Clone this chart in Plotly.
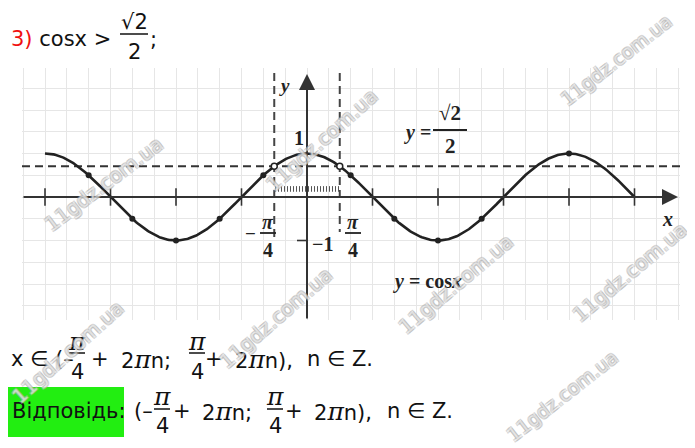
import numpy as np
import plotly.graph_objects as go

PI = np.pi

# ---------------- data ----------------
curve_x_start = -2 * PI
curve_x_end = 5 * PI / 2
level_y = np.sqrt(2) / 2                     # y = sqrt(2)/2
bound_x = [-PI / 4, PI / 4]                  # solution interval ends
dot_x = [-5*PI/3, -4*PI/3, -PI, -2*PI/3, -PI/3, PI/3, 2*PI/3, PI, 4*PI/3, 2*PI]
dot_y = [0.5, -0.5, -1.0, -0.5, 0.5, 0.5, -0.5, -1.0, -0.5, 1.0]
xtick_x = [-2*PI, -3*PI/2, -PI, -PI/2, PI/2, PI, 3*PI/2, 2*PI, 5*PI/2]
ytick_y = [-1]
watermark = "11gdz.com.ua"

# ---------------- layout geometry (screen pixels) ----------------
OFF = 8                          # page body margin
SW, SH = 695, 448
W, H = SW - OFF, SH - OFF
PL, PR, PT, PB = 22, 680, 68, 320     # plot area edges on screen
ML, MT = PL - OFF, PT - OFF
MR, MB = SW - PR, SH - PB
PW, PH = PR - PL, PB - PT
X0PX, Y0PX = 307, 197            # screen position of origin
XK = PI / 131.0                  # data units per pixel (x)
YK = 1 / 43.5                    # data units per pixel (y)
x_range = [(PL - X0PX) * XK, (PR - X0PX) * XK]
y_range = [-(PB - Y0PX) * YK, (Y0PX - PT) * YK]


def px(xp):
    return (xp - PL) / PW


def py(yp):
    return (PB - yp) / PH


INK = "#222222"
fig = go.Figure()

# horizontal dashed line y = sqrt(2)/2
fig.add_trace(go.Scatter(x=x_range, y=[level_y, level_y], mode="lines",
                         line=dict(color="#333", width=2, dash="8px,5px"),
                         hoverinfo="skip"))
# vertical dashed lines x = +-pi/4
fig.add_trace(go.Scatter(x=[bound_x[0], bound_x[0], None, bound_x[1], bound_x[1]],
                         y=[(Y0PX - 73) * YK, -(237 - Y0PX) * YK, None,
                            (Y0PX - 73) * YK, -(232 - Y0PX) * YK],
                         mode="lines", line=dict(color="#444", width=2, dash="8px,5px"),
                         hoverinfo="skip"))
# hatching on the solution interval
hx = np.linspace(bound_x[0] + 0.03, bound_x[1] - 0.03, 22)
hxs, hys = [], []
for v in hx:
    hxs += [v, v, None]
    hys += [0.12, 0.25, None]
fig.add_trace(go.Scatter(x=hxs, y=hys, mode="lines",
                         line=dict(color="#555", width=1), hoverinfo="skip"))
# x ticks
txs, tys = [], []
for t in xtick_x:
    txs += [t, t, None]
    tys += [-0.2, 0.2, None]
fig.add_trace(go.Scatter(x=txs, y=tys, mode="lines",
                         line=dict(color="#333", width=1.6), hoverinfo="skip"))
# y ticks
yxs, yys = [], []
for t in ytick_y:
    yxs += [-10 * XK, 0, None]
    yys += [t, t, None]
fig.add_trace(go.Scatter(x=yxs, y=yys, mode="lines",
                         line=dict(color="#333", width=1.6), hoverinfo="skip"))
# cosine curve
cx = np.linspace(curve_x_start, curve_x_end, 500)
fig.add_trace(go.Scatter(x=cx, y=np.cos(cx), mode="lines",
                         line=dict(color=INK, width=2.6), hoverinfo="skip"))
# marked points
fig.add_trace(go.Scatter(x=dot_x, y=dot_y, mode="markers",
                         marker=dict(color=INK, size=6), hoverinfo="skip"))
fig.add_trace(go.Scatter(x=bound_x, y=[level_y, level_y], mode="markers",
                         marker=dict(color="white", size=6, line=dict(color=INK, width=1.5)),
                         hoverinfo="skip"))

annotations = []
shapes = []

# axes with arrows
annotations.append(dict(x=(678 - X0PX) * XK, y=0, ax=x_range[0], ay=0,
                        xref="x", yref="y", axref="x", ayref="y", text="",
                        showarrow=True, arrowhead=2, arrowsize=1.6, arrowwidth=2,
                        arrowcolor="#333", standoff=0, startstandoff=0))
annotations.append(dict(x=0, y=(Y0PX - 74) * YK, ax=0, ay=y_range[0],
                        xref="x", yref="y", axref="x", ayref="y", text="",
                        showarrow=True, arrowhead=2, arrowsize=1.6, arrowwidth=2,
                        arrowcolor="#333", standoff=0, startstandoff=0))


def txt(s, xp, yp, size=21, color="#111", family="DejaVu Sans", xanchor="left"):
    annotations.append(dict(text=s, x=px(xp), y=py(yp), xref="paper", yref="paper",
                            xanchor=xanchor, yanchor="middle", showarrow=False,
                            font=dict(size=size, color=color, family=family)))


def bar(x0, x1, yp, width=1.5, color="#111"):
    shapes.append(dict(type="line", xref="paper", yref="paper",
                       x0=px(x0), x1=px(x1), y0=py(yp), y1=py(yp),
                       line=dict(color=color, width=width)))


def frac(num, den, xc, ynum, ybar, yden, half, size=21, family="DejaVu Sans",
         color="#111", width=1.5):
    txt(num, xc, ynum, size=size, family=family, color=color, xanchor="center")
    bar(xc - half, xc + half, ybar, width=width, color=color)
    txt(den, xc, yden, size=size, family=family, color=color, xanchor="center")


PI_S = "<span style='font-family:DejaVu Serif;font-style:italic;font-size:25px'>π</span>"

# ---------------- title line ----------------
txt("<span style='color:#f01010'>3)</span> cosx &gt;", 9, 39)
frac("√2", "2", 134, 22, 34, 52, 14)
txt(";", 148, 40)

# ---------------- graph labels ----------------
SERIF = "Liberation Serif"
txt("<b><i>y</i></b>", 284, 85, size=19, family=SERIF, color=INK, xanchor="center")
txt("<b><i>x</i></b>", 667, 219, size=20, family=SERIF, color=INK, xanchor="center")
txt("<b>1</b>", 299, 138, size=20, family=SERIF, color=INK, xanchor="center")
txt("<b>−1</b>", 322, 244, size=20, family=SERIF, color=INK, xanchor="center")
txt("<b>−</b>", 250, 233, size=19, family=SERIF, color=INK, xanchor="center")
frac("<b><i>π</i></b>", "<b>4</b>", 268, 222, 233, 250, 8, size=20, family=SERIF,
     color=INK, width=1.8)
frac("<b><i>π</i></b>", "<b>4</b>", 353, 222, 233, 250, 8, size=20, family=SERIF,
     color=INK, width=1.8)
txt("<b><i>y</i> =</b>", 402, 132, size=20, family=SERIF, color=INK)
frac("<b>√2</b>", "<b>2</b>", 450, 113, 130, 146, 17, size=21, family=SERIF,
     color=INK, width=2)
txt("<b><i>y</i> = cos<i>x</i></b>", 391, 281, size=20, family=SERIF, color=INK)

# ---------------- solution lines ----------------
y1 = 359
txt("x ∈ (–", 9, y1)
frac(PI_S, "4", 77, 341, 353, 372, 8)
txt("+", 100, y1, xanchor="center")
txt("2" + PI_S + "n;", 119, y1)
frac(PI_S, "4", 197, 341, 353, 372, 8)
txt("+", 214, y1, xanchor="center")
txt("2" + PI_S + "n),", 233, y1)
txt("n ∈ Z.", 305, y1)

y2 = 411
shapes.append(dict(type="rect", xref="paper", yref="paper", x0=px(8), x1=px(124),
                   y0=py(437), y1=py(387), fillcolor="#22ee11", line=dict(width=0),
                   layer="below"))
txt("Відповідь:", 10, y2)
txt("(–", 132, y2)
frac(PI_S, "4", 162, 396, 409, 426, 8)
txt("+", 182, y2, xanchor="center")
txt("2" + PI_S + "n;", 200, y2)
frac(PI_S, "4", 275, 396, 409, 426, 8)
txt("+", 294, y2, xanchor="center")
txt("2" + PI_S + "n),", 312, y2)
txt("n ∈ Z.", 385, y2)

# ---------------- watermarks ----------------
WM_SHADOW = ("-1px -1px 0 #b0b0b0, 1px -1px 0 #b0b0b0, "
             "-1px 1px 0 #b0b0b0, 1px 1px 0 #b0b0b0")
for (s, cxp, cyp, ang, sz) in [(watermark, 104, 184, -37, 20),
                               (watermark, 322, 140, -42, 20),
                               (watermark, 616, 60, -38, 19),
                               (watermark, 456, 284, -40, 20),
                               (watermark, 630, 272, -40, 20),
                               (watermark, 68, 352, -42, 20),
                               (watermark, 276, 318, -41, 20),
                               (watermark, 562, 396, -38, 19)]:
    annotations.append(dict(text=s, x=px(cxp), y=py(cyp), xref="paper",
                            yref="paper", xanchor="center", yanchor="middle",
                            showarrow=False, textangle=ang,
                            font=dict(size=sz, color="rgba(255,255,255,0.5)",
                                      family="DejaVu Sans", shadow=WM_SHADOW)))

fig.update_layout(
    width=W, height=H, margin=dict(l=ML, r=MR, t=MT, b=MB, pad=0),
    paper_bgcolor="white", plot_bgcolor="white", showlegend=False,
    xaxis=dict(range=x_range, showgrid=True, gridcolor="#e6e6e6", gridwidth=1,
               tick0=0, dtick=PI / 6, zeroline=False, showline=False,
               showticklabels=False, ticks="", fixedrange=True),
    yaxis=dict(range=y_range, showgrid=True, gridcolor="#e6e6e6", gridwidth=1,
               tick0=0, dtick=0.5, zeroline=False, showline=False,
               showticklabels=False, ticks="", fixedrange=True),
    annotations=annotations, shapes=shapes,
)

fig.write_html("out.html")
